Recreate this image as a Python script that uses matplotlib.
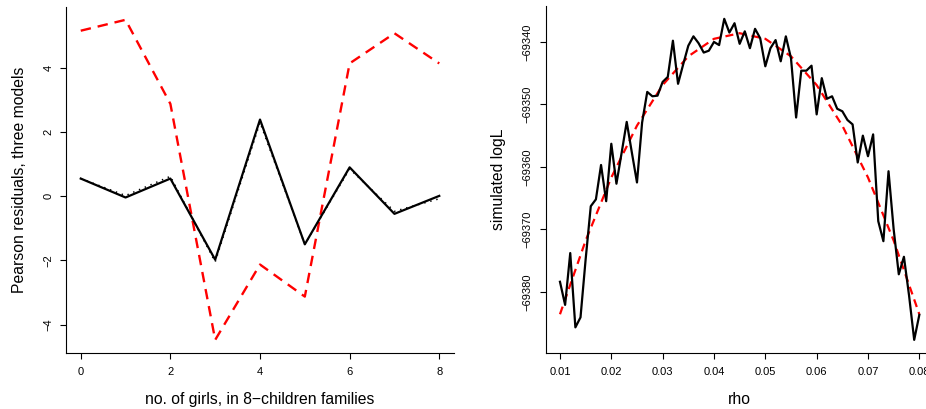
import numpy as np
import matplotlib
matplotlib.use("Agg")
import matplotlib.pyplot as plt

plt.rcParams['font.family'] = ['Liberation Sans', 'DejaVu Sans']
plt.rcParams['lines.scale_dashes'] = False

# ---- left panel data ----
girls = [0, 1, 2, 3, 4, 5, 6, 7, 8]
resid_red = [5.16, 5.50, 2.88, -4.48, -2.13, -3.13, 4.14, 5.08, 4.14]
resid_black = [0.55, -0.04, 0.55, -1.98, 2.39, -1.50, 0.90, -0.55, 0.01]
resid_dotted = [0.55, 0.02, 0.62, -2.05, 2.30, -1.50, 0.85, -0.47, -0.08]
left_xticks = [0, 2, 4, 6, 8]
left_yticks = [-4, -2, 0, 2, 4]

# ---- right panel data ----
rho = [round(0.010 + 0.001 * i, 3) for i in range(71)]
logL = [-69378.4, -69382.1, -69373.8, -69385.7, -69384.1, -69374.8, -69366.3,
        -69365.2, -69359.7, -69365.5, -69356.3, -69362.7, -69357.8, -69352.8,
        -69357.7, -69362.5, -69352.9, -69348.0, -69348.7, -69348.6, -69346.4,
        -69345.6, -69339.8, -69346.7, -69343.6, -69340.6, -69339.1, -69340.2,
        -69341.7, -69341.4, -69340.0, -69340.5, -69336.3, -69338.5, -69337.0,
        -69340.3, -69338.3, -69341.0, -69337.9, -69339.4, -69343.9, -69341.0,
        -69339.7, -69343.1, -69339.1, -69342.6, -69352.1, -69344.6, -69344.6,
        -69343.8, -69351.6, -69345.8, -69349.1, -69348.7, -69350.7, -69351.1,
        -69352.5, -69353.2, -69359.3, -69355.0, -69358.3, -69354.8, -69368.7,
        -69371.9, -69360.7, -69370.0, -69377.2, -69374.4, -69380.6, -69387.7,
        -69383.7]
rho_fit = [0.010, 0.015, 0.020, 0.025, 0.030, 0.035, 0.040, 0.045,
           0.050, 0.055, 0.060, 0.065, 0.070, 0.075, 0.080]
logL_fit = [-69383.6, -69371.8, -69361.7, -69353.4, -69346.9, -69342.3,
            -69339.5, -69338.6, -69339.5, -69342.3, -69346.9, -69353.4,
            -69361.7, -69371.8, -69383.6]
right_xticks = [0.01, 0.02, 0.03, 0.04, 0.05, 0.06, 0.07, 0.08]
right_yticks = [-69380, -69370, -69360, -69350, -69340]

W, H = 926, 409
fig = plt.figure(figsize=(W / 100, H / 100), dpi=100)


def px_axes(x0, x1, ytop, ybot):
    return fig.add_axes([x0 / W, (H - ybot) / H, (x1 - x0) / W, (ybot - ytop) / H])


def r_range(vals):
    lo, hi = min(vals), max(vals)
    d = 0.04 * (hi - lo)
    return lo - d, hi + d


def style(ax):
    for s in ['top', 'right']:
        ax.spines[s].set_visible(False)
    for s in ['left', 'bottom']:
        ax.spines[s].set_linewidth(0.8)
        ax.spines[s].set_color('black')
    ax.tick_params(direction='out', length=4.3, width=0.8, colors='black',
                   labelsize=8)
    ax.tick_params(axis='x', pad=6.2)
    ax.tick_params(axis='y', pad=5.0)
    for lab in ax.get_yticklabels():
        lab.set_rotation(90)
        lab.set_va('center')


# Left axes
ax1 = px_axes(66.4, 453.6, 7.0, 352.7)
ax1.plot(girls, resid_red, color='red', lw=1.7, linestyle=(0, (7.5, 5.0)))
ax1.plot(girls, resid_dotted, color='black', lw=1.1, linestyle=(0, (1.0, 3.5)))
ax1.plot(girls, resid_black, color='black', lw=1.6)
ax1.set_xlim(*r_range(girls))
ax1.set_ylim(*r_range(resid_red + resid_black + resid_dotted))
ax1.set_xticks(left_xticks)
ax1.set_yticks(left_yticks)
style(ax1)
ax1.set_xlabel('no. of girls, in 8\u2212children families', fontsize=11.3)
ax1.set_ylabel('Pearson residuals, three models', fontsize=11.3)

# Right axes
ax2 = px_axes(545.6, 933.7, 6.0, 352.7)
ax2.plot(rho_fit, logL_fit, color='red', lw=1.6, linestyle=(0, (5.8, 3.8)))
ax2.plot(rho, logL, color='black', lw=1.6)
ax2.set_xlim(*r_range(rho))
ax2.set_ylim(*r_range(logL))
ax2.set_xticks(right_xticks)
ax2.set_xticklabels([f"{v:.2f}" for v in right_xticks])
ax2.set_yticks(right_yticks)
ax2.set_yticklabels([f"\u2212{abs(v)}" for v in right_yticks])
style(ax2)
ax2.set_xlabel('rho', fontsize=11.3)
ax2.set_ylabel('simulated logL', fontsize=11.3)

for ax, yfrac in [(ax1, -42.1 / 387.2), (ax2, -42.3 / 388.1)]:
    ax.xaxis.set_label_coords(0.5, -(404 - 352.7) / 345.7)
    ax.xaxis.label.set_va('baseline')
    ax.yaxis.set_label_coords(yfrac, 0.5)
    ax.yaxis.label.set_rotation_mode('anchor')
    ax.yaxis.label.set_va('baseline')
    ax.yaxis.label.set_ha('center')

fig.savefig('out.png', dpi=100)
